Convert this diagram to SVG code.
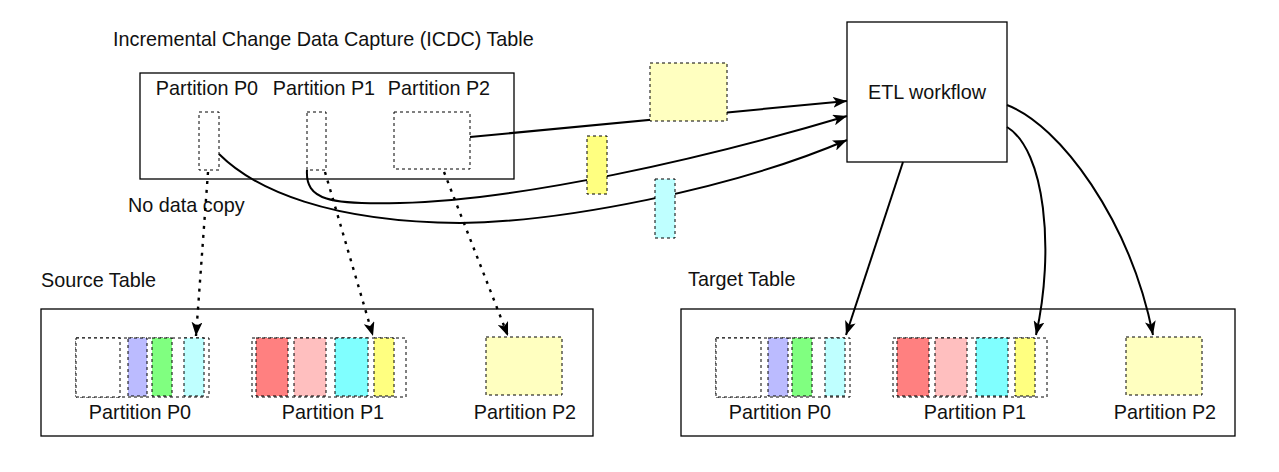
<svg xmlns="http://www.w3.org/2000/svg" width="1279" height="472" viewBox="0 0 1279 472">
<style>
text{font-family:"Liberation Sans",Arial,Helvetica,sans-serif;font-size:19.8px;fill:#111}
.c{text-anchor:middle}
.box{fill:#fff;stroke:#000;stroke-width:1.3}
.d{stroke:#000;stroke-width:1;stroke-dasharray:3 3}
.w{fill:#fff}
.b{fill:#bbbbff}.g{fill:#80ff80}.lc{fill:#bfffff}.r{fill:#ff8080}.p{fill:#ffbfbf}.cy{fill:#80ffff}.y{fill:#ffff80}.py{fill:#ffffc0}
.e{fill:none;stroke:#000;stroke-width:2}
.dot{fill:none;stroke:#000;stroke-width:2.4;stroke-dasharray:3 6}
</style>
<defs>
<marker id="ah" viewBox="0 0 14 11" refX="14" refY="5.5" markerWidth="14" markerHeight="11" markerUnits="userSpaceOnUse" orient="auto">
<path d="M0,0 L14,5.5 L0,11 L3.5,5.5 z" fill="#000"/>
</marker>
</defs>

<text x="113" y="46">Incremental Change Data Capture (ICDC) Table</text>
<text x="41" y="287">Source Table</text>
<text x="688" y="286">Target Table</text>
<text x="128" y="212">No data copy</text>

<g id="icdc">
<rect class="box" x="140" y="73" width="374" height="106"/>
<text class="c" x="207" y="95">Partition P0</text>
<text class="c" x="324" y="95">Partition P1</text>
<text class="c" x="439" y="95">Partition P2</text>
<rect class="d w" x="199" y="112" width="20" height="58"/>
<rect class="d w" x="307" y="112" width="19" height="58"/>
<rect class="d w" x="394" y="112" width="76" height="57"/>
</g>

<g id="etl">
<rect class="box" x="847" y="22" width="160" height="140"/>
<text class="c" x="927" y="99">ETL workflow</text>
</g>

<g id="source">
<rect class="box" x="41" y="309" width="552" height="127"/>
<rect class="d w" x="76" y="338" width="133" height="59"/>
<rect class="d w" x="76" y="338" width="44" height="59"/>
<rect class="d b" x="128" y="338" width="19" height="58"/>
<rect class="d g" x="152" y="338" width="20" height="58"/>
<rect class="d lc" x="184" y="338" width="20" height="58"/>
<text class="c" x="140" y="419">Partition P0</text>
<rect class="d w" x="252" y="338" width="154" height="59"/>
<rect class="d r" x="256" y="338" width="32" height="58"/>
<rect class="d p" x="294" y="338" width="32" height="58"/>
<rect class="d cy" x="335" y="338" width="33" height="58"/>
<rect class="d y" x="374" y="338" width="20" height="58"/>
<text class="c" x="333" y="419">Partition P1</text>
<rect class="d py" x="486" y="337" width="76" height="58"/>
<text class="c" x="525" y="419">Partition P2</text>
</g>

<g id="target">
<rect class="box" x="681" y="309" width="554" height="127"/>
<rect class="d w" x="716" y="338" width="134" height="59"/>
<rect class="d w" x="716" y="338" width="45" height="59"/>
<rect class="d b" x="768" y="338" width="20" height="58"/>
<rect class="d g" x="792" y="338" width="20" height="58"/>
<rect class="d lc" x="825" y="338" width="20" height="58"/>
<text class="c" x="780" y="419">Partition P0</text>
<rect class="d w" x="893" y="338" width="154" height="59"/>
<rect class="d r" x="897" y="338" width="32" height="58"/>
<rect class="d p" x="935" y="338" width="32" height="58"/>
<rect class="d cy" x="976" y="338" width="32" height="58"/>
<rect class="d y" x="1015" y="338" width="20" height="58"/>
<text class="c" x="975" y="419">Partition P1</text>
<rect class="d py" x="1126" y="337" width="76" height="58"/>
<text class="c" x="1165" y="419">Partition P2</text>
</g>

<g id="connectors">
<path class="e" d="M470,137 L847,101" marker-end="url(#ah)"/>
<path class="e" d="M307,170 C305,200 330,205 400,203 C520,200 700,160 847,116" marker-end="url(#ah)"/>
<path class="e" d="M219,154 C255,190 330,222 460,223 C560,222 730,190 847,140" marker-end="url(#ah)"/>
<path class="dot" d="M208,172 L196,336" marker-end="url(#ah)"/>
<path class="dot" d="M325,172 L373,336" marker-end="url(#ah)"/>
<path class="dot" d="M444,172 L508,336" marker-end="url(#ah)"/>
<path class="e" d="M903,162 L846,335" marker-end="url(#ah)"/>
<path class="e" d="M1007,127 C1045,150 1055,250 1036,335" marker-end="url(#ah)"/>
<path class="e" d="M1007,105 C1060,125 1130,220 1153,335" marker-end="url(#ah)"/>
</g>

<g id="moving-data">
<rect class="d py" x="650" y="63" width="77" height="58"/>
<rect class="d y" x="587" y="136" width="20" height="58"/>
<rect class="d lc" x="655" y="179" width="20" height="59"/>
</g>
</svg>
